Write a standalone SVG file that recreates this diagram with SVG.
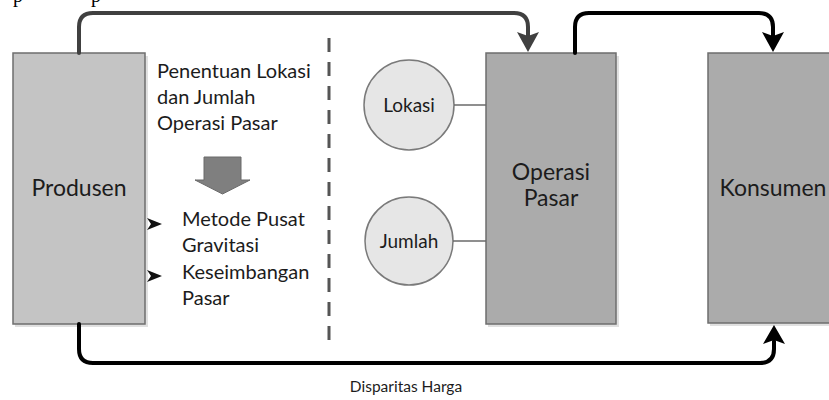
<svg xmlns="http://www.w3.org/2000/svg" width="829" height="400" viewBox="0 0 829 400">
  <defs>
    <style>
      .box { stroke: #6e6e6e; stroke-width: 1.5; }
      .shadow { fill: #000; opacity: 0.12; }
      .label { font-family: Lato, "Open Sans", "Liberation Sans", sans-serif; fill: #1c1c1c; }
      .big { font-size: 23px; text-anchor: middle; }
      .mid { font-size: 20px; }
      .circ { fill: #e6e6e6; stroke: #7a7a7a; stroke-width: 1.5; }
      .tie { stroke: #6a6a6a; stroke-width: 1.5; fill: none; }
      .flow { fill: none; stroke-width: 4; stroke-linecap: round; }
    </style>
  </defs>
  <rect width="829" height="400" fill="#ffffff"/>

  <!-- clipped caption line above the figure -->
  <text x="13" y="2" font-family="Liberation Serif, serif" font-size="20" fill="#000">p</text>
  <text x="91" y="2" font-family="Liberation Serif, serif" font-size="20" fill="#000">p</text>

  <!-- divider between method notes and market nodes -->
  <line x1="329" y1="38" x2="329" y2="342" stroke="#555" stroke-width="3" stroke-dasharray="14 10"/>

  <g id="produsen">
    <rect class="shadow" x="15" y="56" width="133" height="271"/>
    <rect class="box" x="13" y="53" width="132" height="271" fill="#c4c4c4"/>
    <text class="label big" x="79" y="196">Produsen</text>
  </g>

  <g id="operasi-pasar">
    <rect class="shadow" x="488" y="56" width="131" height="271"/>
    <rect class="box" x="486" y="53" width="130" height="271" fill="#ababab"/>
    <text class="label big" x="551" y="180">Operasi</text>
    <text class="label big" x="551" y="206">Pasar</text>
  </g>

  <g id="konsumen">
    <rect class="shadow" x="710" y="56" width="131" height="270"/>
    <rect class="box" x="708" y="53" width="130" height="270" fill="#ababab"/>
    <text class="label big" x="773" y="196">Konsumen</text>
  </g>

  <g id="lokasi">
    <circle class="circ" cx="409" cy="105" r="45"/>
    <text class="label" x="409" y="112" font-size="19" text-anchor="middle">Lokasi</text>
  </g>

  <g id="jumlah">
    <circle class="circ" cx="409" cy="241" r="44"/>
    <text class="label" x="409" y="248" font-size="19" text-anchor="middle">Jumlah</text>
  </g>

  <g id="penentuan">
    <text class="label mid" x="157" y="78">Penentuan Lokasi</text>
    <text class="label mid" x="157" y="104">dan Jumlah</text>
    <text class="label mid" x="157" y="130">Operasi Pasar</text>
    <!-- block arrow down -->
    <path d="M204,157 H241 V180 H250 L222.5,194 L195,180 H204 Z" fill="#7f7f7f" stroke="#6a6a6a" stroke-width="1"/>
  </g>

  <g id="metode">
    <g fill="#111">
      <path d="M147,218 L162,224 L147,230 L151,224 Z"/>
      <path d="M147,270 L162,276 L147,282 L151,276 Z"/>
    </g>
    <text class="label mid" x="182" y="226">Metode Pusat</text>
    <text class="label mid" x="182" y="252">Gravitasi</text>
    <text class="label mid" x="182" y="279">Keseimbangan</text>
    <text class="label mid" x="182" y="305">Pasar</text>
  </g>

  <g id="connectors">
    <line class="tie" x1="454" y1="105" x2="486" y2="105"/>
    <line class="tie" x1="453" y1="241" x2="486" y2="241"/>

    <!-- Produsen to Operasi Pasar -->
    <path class="flow" stroke="#404040" d="M79,53 V27 Q79,13 93,13 H514 Q528,13 528,27 V36"/>
    <path d="M528,52 L517,32 L528,36 L539,32 Z" fill="#404040"/>

    <!-- Operasi Pasar to Konsumen -->
    <path class="flow" stroke="#000" d="M575,53 V27 Q575,13 589,13 H759 Q773,13 773,27 V36"/>
    <path d="M773,52 L762,32 L773,36 L784,32 Z" fill="#000"/>

    <!-- Produsen to Konsumen (price gap) -->
    <path class="flow" stroke="#000" d="M79,324 V349 Q79,363 93,363 H760 Q774,363 774,349 V341"/>
    <path d="M774,325 L763,344 L774,340 L785,344 Z" fill="#000"/>
  </g>

  <text class="label" x="406" y="392" font-size="15.5" text-anchor="middle">Disparitas Harga</text>
</svg>
